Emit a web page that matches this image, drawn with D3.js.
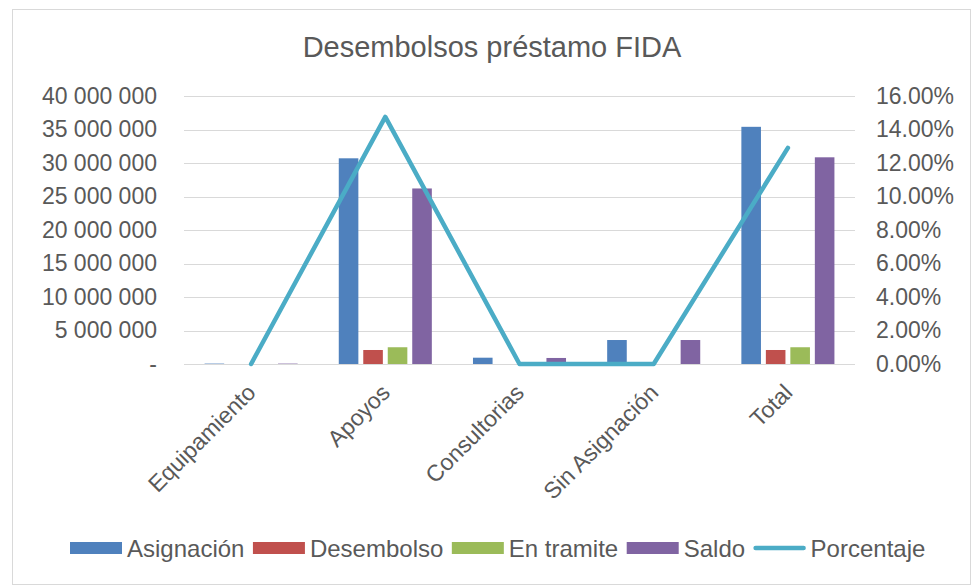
<!DOCTYPE html>
<html>
<head>
<meta charset="utf-8">
<script src="https://cdn.jsdelivr.net/npm/d3@7"></script>
<style>
  body { margin: 0; background: #fff; }
  svg text { font-family: "Liberation Sans", Arial, sans-serif; fill: #595959; }
</style>
</head>
<body>
<script>
// data
let categories = ["Equipamiento", "Apoyos", "Consultorias", "Sin Asignación", "Total"];
let asignacion = [60000, 30700000, 940000, 3580000, 35400000];
let desembolso = [0, 2090000, 0, 0, 2090000];
let enTramite  = [0, 2500000, 0, 0, 2500000];
let saldo      = [60000, 26200000, 900000, 3580000, 30850000];
let porcentaje = [0, 0.1475, 0, 0, 0.129];

let seriesNames  = ["Asignación", "Desembolso", "En tramite", "Saldo"];
let seriesValues = [asignacion, desembolso, enTramite, saldo];
let lineName = "Porcentaje";

let leftTicks  = [0, 5000000, 10000000, 15000000, 20000000, 25000000, 30000000, 35000000, 40000000];
let rightTicks = [0, 0.02, 0.04, 0.06, 0.08, 0.10, 0.12, 0.14, 0.16];

let width = 973,
    height = 588,
    plot = {left: 184, right: 855, top: 96, bottom: 364};

let colours = ["#4f81bd", "#c0504d", "#9bbb59", "#8064a2"],
    lineColour = "#4bacc6";

let svg = d3.select("body").append("svg")
    .attr("width", width)
    .attr("height", height);

// chart border
svg.append("rect")
    .attr("x", 12.5).attr("y", 9.5)
    .attr("width", 958).attr("height", 575)
    .attr("fill", "none")
    .attr("stroke", "#d9d9d9");

// scales
let x0 = d3.scaleBand(categories, [plot.left, plot.right]);
let x1 = d3.scaleBand(seriesNames, [0, x0.bandwidth()])
    .paddingInner(0.2)
    .paddingOuter(0.84);
let yLeft  = d3.scaleLinear([0, 40000000], [plot.bottom, plot.top]);
let yRight = d3.scaleLinear([0, 0.16], [plot.bottom, plot.top]);

let spaceFormat = d3.formatLocale({decimal: ".", thousands: " ", grouping: [3], currency: ["", ""]}).format(",");

// gridlines
svg.append("g")
    .selectAll("line")
    .data(leftTicks)
    .join("line")
    .attr("x1", plot.left).attr("x2", plot.right)
    .attr("y1", d => Math.round(yLeft(d)) + 0.5)
    .attr("y2", d => Math.round(yLeft(d)) + 0.5)
    .attr("stroke", "#d9d9d9")
    .attr("stroke-width", 1);

// left axis
let leftAxis = svg.append("g")
    .attr("transform", `translate(${plot.left},0)`)
    .call(d3.axisLeft(yLeft).tickValues(leftTicks).tickSize(0).tickPadding(27)
        .tickFormat(d => d === 0 ? "-" : spaceFormat(d)));
leftAxis.select(".domain").remove();
leftAxis.selectAll("text")
    .attr("font-size", "23px")
    .attr("fill", "#595959")
    .attr("font-family", "Liberation Sans, Arial, sans-serif");

// right axis
let rightAxis = svg.append("g")
    .attr("transform", `translate(${plot.right},0)`)
    .call(d3.axisRight(yRight).tickValues(rightTicks).tickSize(0).tickPadding(21)
        .tickFormat(d => d3.format(".2f")(d * 100) + "%"));
rightAxis.select(".domain").remove();
rightAxis.selectAll("text")
    .attr("font-size", "23px")
    .attr("fill", "#595959")
    .attr("font-family", "Liberation Sans, Arial, sans-serif");

// bars
seriesValues.forEach((vals, s) => {
    svg.append("g")
        .attr("fill", colours[s])
        .selectAll("rect")
        .data(vals)
        .join("rect")
        .attr("x", (d, i) => x0(categories[i]) + x1(seriesNames[s]))
        .attr("y", d => yLeft(d))
        .attr("width", x1.bandwidth())
        .attr("height", d => yLeft(0) - yLeft(d));
});

// percentage line
let line = d3.line()
    .x((d, i) => x0(categories[i]) + x0.bandwidth() / 2)
    .y(d => yRight(d));

svg.append("path")
    .datum(porcentaje)
    .attr("d", line)
    .attr("fill", "none")
    .attr("stroke", lineColour)
    .attr("stroke-width", 4.5)
    .attr("stroke-linejoin", "round")
    .attr("stroke-linecap", "round");

// category labels
svg.append("g")
    .selectAll("text")
    .data(categories)
    .join("text")
    .attr("transform", d => `translate(${x0(d) + x0.bandwidth() / 2 + 6},394) rotate(-45)`)
    .attr("text-anchor", "end")
    .attr("font-size", "23px")
    .text(d => d);

// title
svg.append("text")
    .attr("x", 492)
    .attr("y", 57)
    .attr("text-anchor", "middle")
    .attr("font-size", "29px")
    .text("Desembolsos préstamo FIDA");

// legend
let legend = svg.append("g");
let lx = 70;
let legendItems = seriesNames.concat([lineName]);
legendItems.forEach((name, i) => {
    if (i < seriesNames.length) {
        legend.append("rect")
            .attr("x", lx).attr("y", 542)
            .attr("width", 52).attr("height", 12)
            .attr("fill", colours[i]);
    } else {
        legend.append("line")
            .attr("x1", lx + 2).attr("x2", lx + 50)
            .attr("y1", 548).attr("y2", 548)
            .attr("stroke", lineColour)
            .attr("stroke-width", 4.5)
            .attr("stroke-linecap", "round");
    }
    let t = legend.append("text")
        .attr("x", lx + 57)
        .attr("y", 556.5)
        .attr("font-size", "24px")
        .text(name);
    lx += 57 + t.node().getComputedTextLength() + 8.5;
});
</script>
</body>
</html>
